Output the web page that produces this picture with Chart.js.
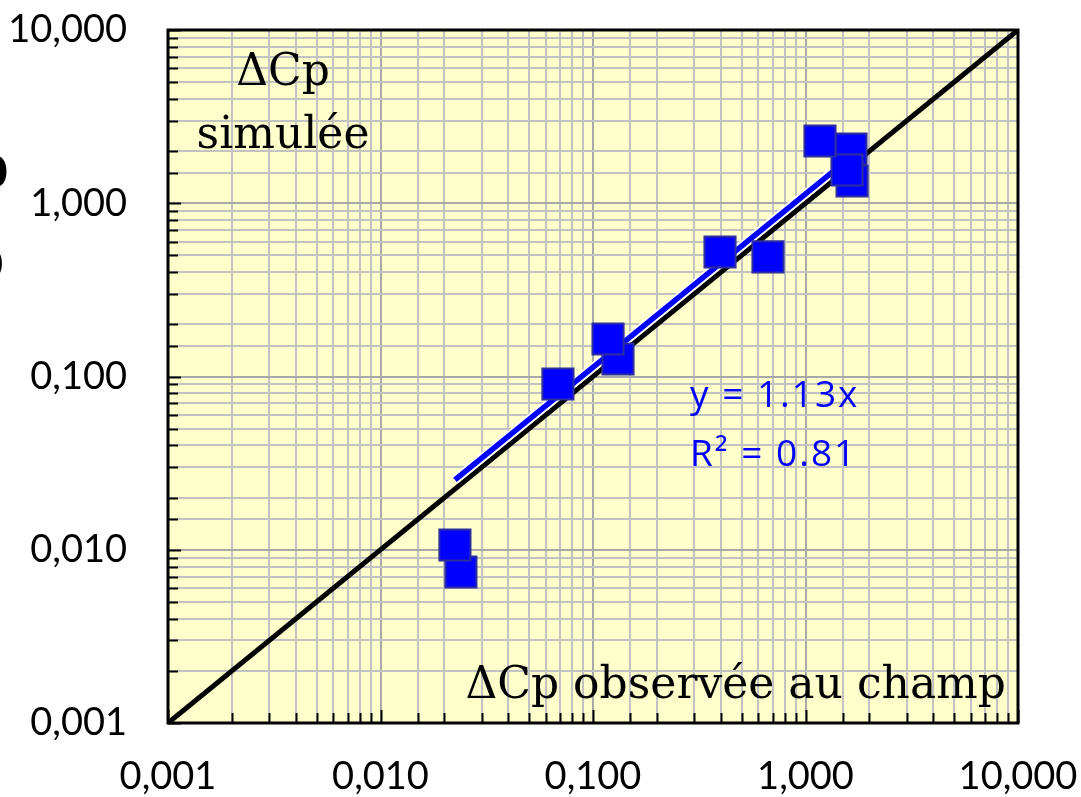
<!DOCTYPE html>
<html><head><meta charset="utf-8">
<script src="https://cdn.jsdelivr.net/npm/chart.js@4.4.0/dist/chart.umd.min.js"></script>
<style>html,body{margin:0;padding:0;background:#fff;overflow:hidden;} #wrap{width:1081px;height:797px;position:relative;}</style>
</head><body><div id="wrap"><canvas id="c" width="1081" height="797"></canvas></div>
<script>
// observed (x) vs simulated (y) ΔCp, drawing order back-to-front
const obsX = [0.0239, 0.0224, 0.1311, 0.1177, 0.0684, 0.396, 0.666, 1.656, 1.637, 1.568, 1.170];
const simY = [0.00744, 0.01065, 0.1262, 0.1646, 0.0905, 0.523, 0.490, 1.344, 2.057, 1.556, 2.287];
const trendX = [0.0224, 1.60];
const trendY = [0.0253, 1.81];
const identityX = [0.001, 10];
const identityY = [0.001, 10];
const tickValues = [0.001, 0.01, 0.1, 1, 10];
const tickLabels = ['0,001', '0,010', '0,100', '1,000', '10,000'];
const eqText = ['y = 1.13x', 'R² = 0.81'];
const yTitle = ['ΔCp', 'simulée'];
const xTitle = 'ΔCp observée au champ';

const pts = (xs, ys) => xs.map((x, i) => ({x: x, y: ys[i]}));
const isMajor = v => Math.abs(Math.log10(v) - Math.round(Math.log10(v))) < 1e-9;
const labelFor = v => {
  for (let i = 0; i < tickValues.length; i++) {
    if (Math.abs(v - tickValues[i]) / tickValues[i] < 1e-6) return tickLabels[i];
  }
  return '';
};

const framePlugin = {
  id: 'frame',
  beforeDraw(chart) {
    const {ctx, chartArea: a} = chart;
    ctx.save();
    ctx.fillStyle = '#ffffcc';
    ctx.fillRect(a.left, a.top, a.right - a.left, a.bottom - a.top);
    ctx.restore();
  },
  afterDatasetsDraw(chart) {
    const {ctx, chartArea: a, scales} = chart;
    ctx.save();
    ctx.strokeStyle = '#000';
    ctx.lineWidth = 2;
    ctx.beginPath();
    scales.y.ticks.forEach(t => {
      const p = Math.round(scales.y.getPixelForValue(t.value)) + 0.5;
      const len = isMajor(t.value) ? 13 : 10;
      ctx.moveTo(a.left, p); ctx.lineTo(a.left + len, p);
    });
    scales.x.ticks.forEach(t => {
      const p = Math.round(scales.x.getPixelForValue(t.value)) + 0.5;
      const len = isMajor(t.value) ? 13 : 10;
      ctx.moveTo(p, a.bottom); ctx.lineTo(p, a.bottom - len);
    });
    ctx.stroke();
    ctx.lineWidth = 3;
    ctx.strokeRect(a.left, a.top, a.right - a.left, a.bottom - a.top);
    ctx.restore();
  },
  afterDraw(chart) {
    const {ctx} = chart;
    ctx.save();
    ctx.fillStyle = '#000';
    ctx.font = '44px "DejaVu Serif"';
    ctx.textAlign = 'center';
    ctx.textBaseline = 'alphabetic';
    ctx.fillText(yTitle[0], 283, 85);
    ctx.fillText(yTitle[1], 283, 148);
    ctx.textAlign = 'right';
    ctx.fillText(xTitle, 1006, 698);
    ctx.fillStyle = '#0000ff';
    ctx.font = '37px "Open Sans"';
    ctx.textAlign = 'left';
    try { ctx.letterSpacing = '2px'; } catch (e) {}
    ctx.fillText(eqText[0], 690, 407);
    ctx.fillText(eqText[1], 690, 466);
    try { ctx.letterSpacing = '0px'; } catch (e) {}
    // clipped fragments of a title at the left edge
    ctx.fillStyle = '#000';
    ctx.font = 'bold 60px "Liberation Sans"';
    ctx.textAlign = 'right';
    ctx.fillText('p', 9, 187);
    ctx.font = '34px "Liberation Sans"';
    ctx.fillText(')', 4, 272);
    ctx.restore();
  }
};

const axisCommon = (isY) => ({
  type: 'logarithmic',
  min: 0.001,
  max: 10,
  border: {display: false},
  grid: {
    drawTicks: false,
    color: c => (c.tick && isMajor(c.tick.value)) ? '#a8a8a8' : '#c2c2c2',
    lineWidth: 2
  },
  ticks: {
    autoSkip: false,
    maxRotation: 0,
    minRotation: 0,
    color: '#000',
    padding: isY ? 41 : 31,
    font: {family: 'Lato', size: 38},
    callback: v => labelFor(v)
  }
});

const xAxis = axisCommon(false);
xAxis.afterFit = s => { s.height = 74; s.paddingLeft = 0; s.paddingRight = 0; };
const yAxis = axisCommon(true);
yAxis.afterFit = s => { s.width = 168; s.paddingTop = 0; s.paddingBottom = 0; };

new Chart(document.getElementById('c'), {
  data: {
    datasets: [
      {
        type: 'scatter',
        data: pts(obsX, simY),
        backgroundColor: '#0000ff',
        borderColor: '#2e2e9e',
        borderWidth: 2,
        pointStyle: 'rect',
        pointRadius: 22,
        pointHoverRadius: 22,
        order: 0
      },
      {
        type: 'line',
        data: pts(trendX, trendY),
        borderColor: '#0000ff',
        borderWidth: 5.5,
        pointRadius: 0,
        fill: false,
        order: 1
      },
      {
        type: 'line',
        data: pts(trendX, trendY),
        borderColor: '#ffffff',
        borderWidth: 9,
        pointRadius: 0,
        fill: false,
        order: 2
      },
      {
        type: 'line',
        data: pts(identityX, identityY),
        borderColor: '#000000',
        borderWidth: 5,
        pointRadius: 0,
        fill: false,
        order: 3
      }
    ]
  },
  options: {
    responsive: false,
    animation: false,
    devicePixelRatio: 1,
    layout: {padding: {left: 0, right: 63, top: 30, bottom: 0}},
    plugins: {legend: {display: false}, tooltip: {enabled: false}},
    scales: {x: xAxis, y: yAxis}
  },
  plugins: [framePlugin]
});
</script>
</body></html>
